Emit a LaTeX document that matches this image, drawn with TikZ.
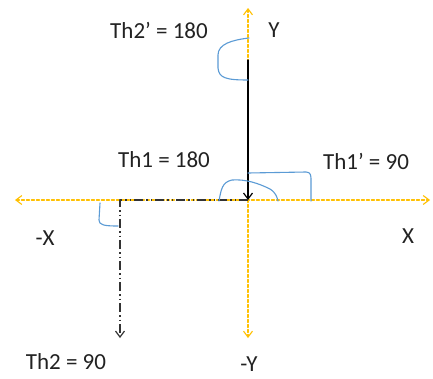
\documentclass[tikz,border=0pt]{standalone}
\usepackage{fontspec}
\setmainfont{Carlito}
\usetikzlibrary{arrows.meta}
\definecolor{axisGold}{HTML}{FFC000}
\definecolor{markBlue}{HTML}{5B9BD5}
\definecolor{labelInk}{HTML}{222222}
\begin{document}
\begin{tikzpicture}[x=1pt,y=-1pt,>={Straight Barb[length=6pt,width=9pt]},line cap=round,line join=round]
\path[fill=white] (0,0) rectangle (433,378);
\tikzset{axis/.style={draw=axisGold,line width=1.1pt,densely dashed},link/.style={draw=black,line width=1.2pt},chain/.style={draw=black!80,line width=1.2pt,line cap=butt,dash pattern=on 9pt off 3pt on 1.5pt off 3pt on 1.5pt off 3pt},anglemark/.style={draw=markBlue,line width=1.1pt},lbl/.style={text=labelInk,font=\fontsize{23}{27}\selectfont,inner sep=0pt}}
% axes
\coordinate (O) at (248,200);
\coordinate (xneg) at (15,200); \coordinate (xpos) at (430,200);
\coordinate (ypos) at (248,8); \coordinate (yneg) at (248,338);
\draw[axis,<->] (xneg) -- (xpos);
\draw[axis,<->] (ypos) -- (yneg);
% links
\coordinate (linkTop) at (248,60);
\coordinate (elbow) at (120,200); \coordinate (linkEnd) at (120,338);
\draw[link,->] (linkTop) -- (O);
\draw[chain,->] (O) -- (elbow) -- (linkEnd);
% angle marks
\draw[anglemark] (249,38) .. controls (232,40) and (218,44) .. (218,55) -- (218,68) .. controls (219,78) and (226,80) .. (248,80);
\draw[anglemark] (248,173) -- (306,172) .. controls (311,172) and (311,176) .. (311,180) -- (311,201);
\draw[anglemark] (219,201) .. controls (221,190) and (222,182) .. (232,180) .. controls (245,179) and (258,183) .. (270,189) .. controls (276,193) and (277,197) .. (278,201);
\draw[anglemark] (100,203) -- (99,220) .. controls (99,225) and (104,226) .. (118,226);
% labels
\node[lbl] (th2p) at (159,30) {Th2’ = 180};
\node[lbl] (ylab) at (274,30) {Y};
\node[lbl] (th1) at (164,160) {Th1 = 180};
\node[lbl] (th1p) at (366,161) {Th1’ = 90};
\node[lbl] (xnlab) at (45,238) {-X};
\node[lbl] (xlab) at (408,236) {X};
\node[lbl] (th2) at (66,362) {Th2 = 90};
\node[lbl] (ynlab) at (249,364) {-Y};
\end{tikzpicture}
\end{document}
